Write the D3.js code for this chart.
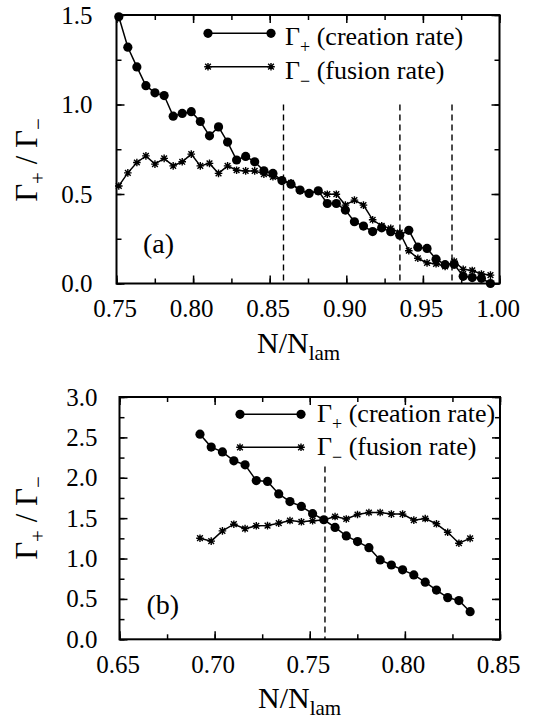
<!DOCTYPE html>
<html>
<head>
<meta charset="utf-8">
<script src="https://cdn.jsdelivr.net/npm/d3@7"></script>
<style>
  html, body { margin: 0; padding: 0; background: #fff; }
  svg { display: block; }
  text { font-family: "Liberation Serif", "Times New Roman", "DejaVu Serif", serif; }
</style>
</head>
<body>
<svg id="chart" width="535" height="724"></svg>
<script>
// panel (a)
const xA = [0.7515, 0.7574, 0.7633, 0.7692, 0.7751, 0.7811, 0.7870, 0.7929, 0.7988, 0.8047,
  0.8107, 0.8166, 0.8225, 0.8284, 0.8343, 0.8402, 0.8462, 0.8521, 0.8580, 0.8639,
  0.8698, 0.8757, 0.8817, 0.8876, 0.8935, 0.8994, 0.9053, 0.9112, 0.9172, 0.9231,
  0.9290, 0.9349, 0.9408, 0.9467, 0.9527, 0.9586, 0.9645, 0.9704, 0.9763, 0.9822,
  0.9882, 0.9941];
const creationA = [1.49, 1.32, 1.21, 1.105, 1.065, 1.05, 0.935, 0.95, 0.96, 0.905,
  0.825, 0.875, 0.79, 0.69, 0.71, 0.68, 0.63, 0.615, 0.575, 0.555,
  0.522, 0.503, 0.518, 0.447, 0.447, 0.41, 0.345, 0.321, 0.29, 0.311,
  0.289, 0.27, 0.297, 0.203, 0.196, 0.136, 0.105, 0.107, 0.04, 0.033,
  0.029, 0.0];
const fusionA = [0.545, 0.618, 0.676, 0.713, 0.667, 0.699, 0.657, 0.68, 0.723, 0.657,
  0.671, 0.615, 0.657, 0.633, 0.629, 0.629, 0.611, 0.596, 0.575, 0.562,
  0.52, 0.505, 0.515, 0.499, 0.499, 0.438, 0.466, 0.438, 0.356, 0.322,
  0.308, 0.285, 0.183, 0.141, 0.115, 0.11, 0.095, 0.124, 0.079, 0.073,
  0.053, 0.047];
const dashA = [0.859, 0.935, 0.969];
const dashTopA = 1.0;
const xTicksA = [0.75, 0.80, 0.85, 0.90, 0.95, 1.00];
const yTicksA = [0.0, 0.5, 1.0, 1.5];

// panel (b)
const xB = [0.6923, 0.6982, 0.7041, 0.7101, 0.7160, 0.7219, 0.7278, 0.7337, 0.7396, 0.7456,
  0.7515, 0.7574, 0.7633, 0.7692, 0.7751, 0.7811, 0.7870, 0.7929, 0.7988, 0.8047,
  0.8107, 0.8166, 0.8225, 0.8284, 0.8343];
const creationB = [2.54, 2.38, 2.32, 2.21, 2.16, 1.965, 1.955, 1.80, 1.705, 1.645,
  1.555, 1.48, 1.385, 1.28, 1.21, 1.135, 0.983, 0.92, 0.86, 0.797,
  0.707, 0.61, 0.516, 0.48, 0.342];
const fusionB = [1.252, 1.215, 1.342, 1.425, 1.37, 1.405, 1.408, 1.438, 1.47, 1.455,
  1.468, 1.478, 1.52, 1.49, 1.545, 1.57, 1.57, 1.55, 1.55, 1.475,
  1.495, 1.43, 1.325, 1.19, 1.25];
const dashB = [0.758];
const dashTopB = 2.14;
const xTicksB = [0.65, 0.70, 0.75, 0.80, 0.85];
const yTicksB = [0.0, 0.5, 1.0, 1.5, 2.0, 2.5, 3.0];

const legendLabels = ["(creation rate)", "(fusion rate)"];
const legendSubs = ["+", "\u2212"];
const SERIF = "Liberation Serif, Times New Roman, DejaVu Serif, serif";

const svg = d3.select("#chart").attr("font-family", SERIF);
svg.append("rect").attr("width", 535).attr("height", 724).attr("fill", "#fff");

function starPath(cx, cy, r) {
  const d = r * 0.75;
  return `M${cx - r},${cy}L${cx + r},${cy}M${cx},${cy - r}L${cx},${cy + r}` +
    `M${cx - d},${cy - d}L${cx + d},${cy + d}M${cx - d},${cy + d}L${cx + d},${cy - d}`;
}

function drawCircles(g, pts) {
  g.selectAll(null).data(pts).join("circle")
    .attr("cx", (d) => d[0]).attr("cy", (d) => d[1]).attr("r", 4.6).attr("fill", "#000");
}

function drawStars(g, pts) {
  g.selectAll(null).data(pts).join("path")
    .attr("d", (d) => starPath(d[0], d[1], 3.8))
    .attr("stroke", "#000").attr("stroke-width", 1.4).attr("fill", "none");
}

function styleAxis(axisG) {
  axisG.select(".domain").remove();
  axisG.attr("font-family", SERIF).attr("font-size", 25);
  axisG.selectAll(".tick line").attr("stroke-width", 1.5);
  axisG.selectAll(".tick text").attr("fill", "#000").attr("font-family", SERIF);
}

function drawPanel(p) {
  const g = svg.append("g");
  const x = d3.scaleLinear().domain(p.xDomain).range([p.left, p.right]);
  const y = d3.scaleLinear().domain(p.yDomain).range([p.bottom, p.top]);
  const xMinor = d3.range(0, p.xMinorCount + 1).map((i) => p.xDomain[0] + i * p.xMinorStep);
  const yMinor = d3.range(0, p.yMinorCount + 1).map((i) => p.yDomain[0] + i * p.yMinorStep);

  // minor ticks on all four sides
  [
    [d3.axisBottom(x).tickValues(xMinor), `translate(0,${p.bottom})`],
    [d3.axisTop(x).tickValues(xMinor), `translate(0,${p.top})`],
    [d3.axisLeft(y).tickValues(yMinor), `translate(${p.left},0)`],
    [d3.axisRight(y).tickValues(yMinor), `translate(${p.right},0)`],
  ].forEach(([axis, tr]) => {
    g.append("g").attr("transform", tr)
      .call(axis.tickSize(-5).tickSizeOuter(0).tickFormat(""))
      .call(styleAxis);
  });

  // major ticks + labels
  g.append("g").attr("transform", `translate(0,${p.bottom})`)
    .call(d3.axisBottom(x).tickValues(p.xTicks).tickFormat(d3.format(".2f"))
      .tickSize(-8).tickSizeOuter(0).tickPadding(16))
    .call(styleAxis)
    .selectAll(".tick text").attr("dx", -2);
  g.append("g").attr("transform", `translate(0,${p.top})`)
    .call(d3.axisTop(x).tickValues(p.xTicks).tickFormat("").tickSize(-8).tickSizeOuter(0))
    .call(styleAxis);
  g.append("g").attr("transform", `translate(${p.left},0)`)
    .call(d3.axisLeft(y).tickValues(p.yTicks).tickFormat(d3.format(".1f"))
      .tickSize(-8).tickSizeOuter(0).tickPadding(p.yPad))
    .call(styleAxis);
  g.append("g").attr("transform", `translate(${p.right},0)`)
    .call(d3.axisRight(y).tickValues(p.yTicks).tickFormat("").tickSize(-8).tickSizeOuter(0))
    .call(styleAxis);

  // frame
  g.append("rect")
    .attr("x", p.left).attr("y", p.top)
    .attr("width", p.right - p.left).attr("height", p.bottom - p.top)
    .attr("fill", "none").attr("stroke", "#000").attr("stroke-width", 2);

  // dashed markers
  g.selectAll(null).data(p.dash).join("line")
    .attr("x1", (d) => x(d)).attr("x2", (d) => x(d))
    .attr("y1", y(p.dashTop)).attr("y2", y(p.yDomain[0]))
    .attr("stroke", "#000").attr("stroke-width", 1.4).attr("stroke-dasharray", "6,4");

  const line = d3.line().x((d) => x(d[0])).y((d) => y(d[1]));
  const cre = d3.zip(p.xs, p.creation);
  const fus = d3.zip(p.xs, p.fusion);
  g.append("path").attr("d", line(fus)).attr("fill", "none").attr("stroke", "#000").attr("stroke-width", 1.5);
  g.append("path").attr("d", line(cre)).attr("fill", "none").attr("stroke", "#000").attr("stroke-width", 1.5);
  drawStars(g, fus.map((d) => [x(d[0]), y(d[1])]));
  drawCircles(g, cre.map((d) => [x(d[0]), y(d[1])]));

  // legend
  const L = p.legend;
  L.rows.forEach((ry, i) => {
    g.append("line").attr("x1", L.x1).attr("x2", L.x2).attr("y1", ry).attr("y2", ry)
      .attr("stroke", "#000").attr("stroke-width", 1.5);
    if (i === 0) drawCircles(g, [[L.x1, ry], [L.x2, ry]]);
    else drawStars(g, [[L.x1, ry], [L.x2, ry]]);
    const t = g.append("text").attr("x", L.textX).attr("y", ry + L.textDy)
      .attr("font-family", SERIF).attr("font-size", 26);
    t.append("tspan").text("\u0393");
    t.append("tspan").attr("font-size", 18).attr("dy", 8).text(legendSubs[i]);
    t.append("tspan").attr("dy", -8).text(" " + legendLabels[i]);
  });

  // panel tag
  g.append("text").attr("x", p.tag.x).attr("y", p.tag.y)
    .attr("font-family", SERIF).attr("font-size", 28).text(p.tag.text);

  // x title
  const xt = g.append("text").attr("x", p.xTitle.x).attr("y", p.xTitle.y)
    .attr("font-family", SERIF).attr("font-size", 30);
  xt.append("tspan").text("N/N");
  xt.append("tspan").attr("font-size", 21).attr("dy", 7).text("lam");

  // y title
  const yt = g.append("text")
    .attr("transform", `translate(${p.yTitle.x},${p.yTitle.y}) rotate(-90)`)
    .attr("text-anchor", "middle").attr("font-family", SERIF).attr("font-size", 31);
  yt.append("tspan").text("\u0393");
  yt.append("tspan").attr("font-size", 21).attr("dy", 8).text("+");
  yt.append("tspan").attr("dy", -8).text(" / \u0393");
  yt.append("tspan").attr("font-size", 21).attr("dy", 8).text("\u2212");
}

drawPanel({
  xDomain: [0.75, 1.0], yDomain: [0, 1.5],
  left: 116.5, right: 499.5, top: 15, bottom: 283.5,
  xMinorStep: 0.025, xMinorCount: 10, yMinorStep: 0.25, yMinorCount: 6,
  xTicks: xTicksA, yTicks: yTicksA, yPad: 24,
  xs: xA, creation: creationA, fusion: fusionA,
  dash: dashA, dashTop: dashTopA,
  legend: { x1: 208, x2: 271, rows: [33.3, 66.7], textX: 285, textDy: 12 },
  tag: { x: 143, y: 253, text: "(a)" },
  xTitle: { x: 257, y: 353 },
  yTitle: { x: 37, y: 160 },
});

drawPanel({
  xDomain: [0.65, 0.85], yDomain: [0, 3.0],
  left: 119.5, right: 500, top: 397, bottom: 639.3,
  xMinorStep: 0.025, xMinorCount: 8, yMinorStep: 0.25, yMinorCount: 12,
  xTicks: xTicksB, yTicks: yTicksB, yPad: 22,
  xs: xB, creation: creationB, fusion: fusionB,
  dash: dashB, dashTop: dashTopB,
  legend: { x1: 240, x2: 301, rows: [414.3, 447.3], textX: 317, textDy: 8 },
  tag: { x: 146.5, y: 614, text: "(b)" },
  xTitle: { x: 258, y: 708 },
  yTitle: { x: 37, y: 518 },
});
</script>
</body>
</html>
